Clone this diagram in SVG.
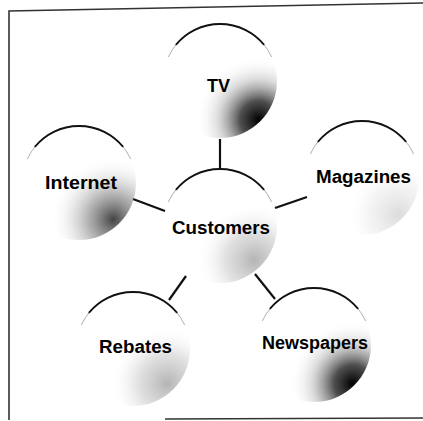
<svg xmlns="http://www.w3.org/2000/svg" width="423" height="421" viewBox="0 0 423 421">
  <style>
    .lbl { font-family: "Liberation Sans", Arial, sans-serif; font-weight: bold; font-size: 18px; fill: #000; }
    .arc { fill: none; stroke: #111; stroke-width: 1.8; stroke-linecap: round; }
    .arcx { fill: none; stroke: #999; stroke-width: 0.8; }
    .conn line { stroke: #111; stroke-width: 2.2; stroke-linecap: butt; }
    .frame { fill: none; stroke: #333; stroke-width: 1.6; }
  </style>
  <defs>
    <radialGradient id="gDark" cx="0.84" cy="0.84" r="0.55" fx="0.84" fy="0.84">
      <stop offset="0" stop-color="#000" stop-opacity="1"/>
      <stop offset="0.3" stop-color="#222" stop-opacity="0.8"/>
      <stop offset="0.65" stop-color="#888" stop-opacity="0.3"/>
      <stop offset="1" stop-color="#fff" stop-opacity="0"/>
    </radialGradient>
    <radialGradient id="gMed" cx="0.8" cy="0.82" r="0.55" fx="0.8" fy="0.82">
      <stop offset="0" stop-color="#222" stop-opacity="0.85"/>
      <stop offset="0.4" stop-color="#666" stop-opacity="0.5"/>
      <stop offset="0.75" stop-color="#aaa" stop-opacity="0.15"/>
      <stop offset="1" stop-color="#fff" stop-opacity="0"/>
    </radialGradient>
    <radialGradient id="gLight" cx="0.8" cy="0.8" r="0.5" fx="0.8" fy="0.8">
      <stop offset="0" stop-color="#777" stop-opacity="0.55"/>
      <stop offset="0.5" stop-color="#999" stop-opacity="0.3"/>
      <stop offset="1" stop-color="#fff" stop-opacity="0"/>
    </radialGradient>
    <radialGradient id="gFaint" cx="0.82" cy="0.82" r="0.45" fx="0.82" fy="0.82">
      <stop offset="0" stop-color="#999" stop-opacity="0.35"/>
      <stop offset="0.6" stop-color="#bbb" stop-opacity="0.15"/>
      <stop offset="1" stop-color="#fff" stop-opacity="0"/>
    </radialGradient>
  </defs>

  <rect width="423" height="421" fill="#fff"/>

  <g id="frame">
    <polyline class="frame" points="9,420 9,11 423,3"/>
    <line class="frame" x1="165" y1="419" x2="423" y2="418"/>
  </g>

  <g id="connectors" class="conn">
    <line x1="220" y1="139" x2="220" y2="168"/>
    <line x1="133" y1="199" x2="165" y2="211"/>
    <line x1="275" y1="208" x2="307" y2="197"/>
    <line x1="186" y1="276" x2="169" y2="300"/>
    <line x1="255" y1="274" x2="275" y2="299"/>
  </g>

  <g id="node-tv">
    <circle cx="220" cy="81" r="57" fill="url(#gDark)"/>
    <path class="arcx" d="M168.3,57 A57,57 0 0 1 271.7,57"/>
    <path class="arc" d="M176.3,44.4 A57,57 0 0 1 263.7,44.4"/>
    <text class="lbl" x="207" y="92" textLength="23" lengthAdjust="spacingAndGlyphs">TV</text>
  </g>

  <g id="node-internet">
    <circle cx="79" cy="183" r="57" fill="url(#gMed)"/>
    <path class="arcx" d="M27.3,159 A57,57 0 0 1 130.7,159"/>
    <path class="arc" d="M35.3,146.4 A57,57 0 0 1 122.7,146.4"/>
    <text class="lbl" x="45" y="189" textLength="72" lengthAdjust="spacingAndGlyphs">Internet</text>
  </g>

  <g id="node-magazines">
    <circle cx="362" cy="178" r="57" fill="url(#gFaint)"/>
    <path class="arcx" d="M310.3,154 A57,57 0 0 1 413.7,154"/>
    <path class="arc" d="M318.3,141.4 A57,57 0 0 1 405.7,141.4"/>
    <text class="lbl" x="316" y="183" textLength="95" lengthAdjust="spacingAndGlyphs">Magazines</text>
  </g>

  <g id="node-customers">
    <circle cx="220" cy="226" r="57" fill="url(#gLight)"/>
    <path class="arcx" d="M168.3,202 A57,57 0 0 1 271.7,202"/>
    <path class="arc" d="M176.3,189.4 A57,57 0 0 1 263.7,189.4"/>
    <text class="lbl" x="172" y="234" textLength="98" lengthAdjust="spacingAndGlyphs">Customers</text>
  </g>

  <g id="node-rebates">
    <circle cx="133" cy="349" r="57" fill="url(#gLight)"/>
    <path class="arcx" d="M81.3,325 A57,57 0 0 1 184.7,325"/>
    <path class="arc" d="M89.3,312.4 A57,57 0 0 1 176.7,312.4"/>
    <text class="lbl" x="99" y="353" textLength="73" lengthAdjust="spacingAndGlyphs">Rebates</text>
  </g>

  <g id="node-newspapers">
    <circle cx="314" cy="345" r="57" fill="url(#gDark)"/>
    <path class="arcx" d="M262.3,321 A57,57 0 0 1 365.7,321"/>
    <path class="arc" d="M270.3,308.4 A57,57 0 0 1 357.7,308.4"/>
    <text class="lbl" x="262" y="349" textLength="106" lengthAdjust="spacingAndGlyphs">Newspapers</text>
  </g>
</svg>
